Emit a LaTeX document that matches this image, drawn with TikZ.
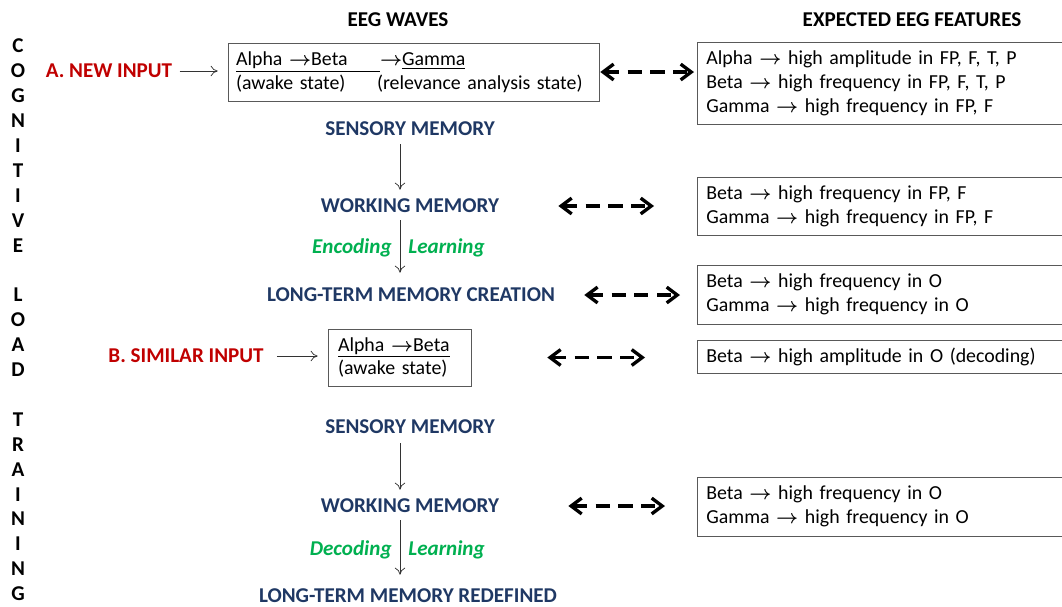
\documentclass[tikz,border=0pt]{standalone}
\usepackage{fontspec}
\setmainfont{Carlito}
\usetikzlibrary{arrows.meta}

\definecolor{memblue}{HTML}{1F3864}
\definecolor{inred}{HTML}{C00000}
\definecolor{cuegreen}{HTML}{00B050}
\newcommand{\wto}{{\boldmath$\rightarrow$}}

\tikzset{
  mem/.style={font=\bfseries\fontsize{12}{14}\selectfont, text=memblue, inner sep=0pt},
  inlabel/.style={font=\bfseries\fontsize{12}{14}\selectfont, text=inred, inner sep=0pt},
  head/.style={font=\bfseries\fontsize{12}{14}\selectfont, inner sep=0pt},
  cue/.style={font=\bfseries\itshape\fontsize{12}{14}\selectfont, text=cuegreen, inner sep=0pt},
  wavebox/.style={draw=black!65, font=\fontsize{11.3}{13.6}\selectfont, align=left},
  featbox/.style={draw=black!65, anchor=west, font=\fontsize{11.3}{13.6}\selectfont,
    text width=7.2cm, inner xsep=0.18cm, align=left},
  flow/.style={-{To[length=4pt,width=6pt]}, black!80},
  link/.style={{Straight Barb[length=6pt,width=9pt]}-{Straight Barb[length=6pt,width=9pt]},
    line width=1.9pt, dash pattern=on 8pt off 5pt}
}

\begin{document}
\begin{tikzpicture}[x=0.02cm,y=-0.02cm]
  \useasboundingbox (0,0) rectangle (1062,606);
  \clip (0,0) rectangle (1062,606);

  % Side title
  \foreach \ch [count=\k from 0] in {C,O,G,N,I,T,I,V,E,{},L,O,A,D,{},T,R,A,I,N,I,N,G}
    \node[head] (ltr\k) at (18,46+\k*24.9) {\ch};

  % Column heads
  \node[head] (wavehead) at (398,20) {EEG WAVES};
  \node[head] (feathead) at (912,20) {EXPECTED EEG FEATURES};
  \coordinate (axis) at (400,0);

  % A. new input
  \node[inlabel] (in1) at (109,71) {A. NEW INPUT};
  \node[wavebox, minimum width=7.42cm, minimum height=1.16cm, text width=7.1cm, inner xsep=0.16cm]
    (wave1) at (413.5,72)
    {\underline{\makebox[2.88cm][l]{Alpha \wto Beta}}\wto\underline{Gamma}\\
     \makebox[2.82cm][l]{(awake state)}(relevance analysis state)};
  \draw[flow, shorten <=0.14cm, shorten >=0.2cm] (in1.east) -- (in1.east -| wave1.west);

  \node[mem] (sm1) at (410,129) {SENSORY MEMORY};
  \node[mem] (wm1) at (410,206) {WORKING MEMORY};
  \node[mem] (ltm1) at (411,295) {LONG-TERM MEMORY CREATION};
  \draw[flow, shorten <=0.16cm, shorten >=0.18cm] (sm1.south -| axis) -- (wm1.north -| axis);
  \draw[flow, shorten <=0.14cm, shorten >=0.3cm] (wm1.south -| axis) -- (ltm1.north -| axis)
    node[cue, midway, left=0.16cm, yshift=0.05cm] (enc) {Encoding}
    node[cue, midway, right=0.16cm, yshift=0.05cm] (learn1) {Learning};

  % B. similar input
  \node[inlabel] (in2) at (186,356) {B. SIMILAR INPUT};
  \node[wavebox, minimum width=2.86cm, minimum height=1.14cm, text width=2.46cm, inner xsep=0.2cm]
    (wave2) at (399.5,357.5)
    {\underline{Alpha \wto Beta}\\(awake state)};
  \draw[flow, shorten <=0.26cm, shorten >=0.2cm] (in2.east) -- (in2.east -| wave2.west);

  \node[mem] (sm2) at (410,427) {SENSORY MEMORY};
  \node[mem] (wm2) at (410,506) {WORKING MEMORY};
  \node[mem] (ltm2) at (408,596) {LONG-TERM MEMORY REDEFINED};
  \draw[flow, shorten <=0.18cm, shorten >=0.18cm] (sm2.south -| axis) -- (wm2.north -| axis);
  \draw[flow, shorten <=0.14cm, shorten >=0.28cm] (wm2.south -| axis) -- (ltm2.north -| axis)
    node[cue, midway, left=0.16cm, yshift=0.03cm] (dec) {Decoding}
    node[cue, midway, right=0.16cm, yshift=0.03cm] (learn2) {Learning};

  % Expected features
  \node[featbox, minimum height=1.64cm] (feat1) at (697,83)
    {Alpha \wto{} high amplitude in FP, F, T, P\\
     Beta \wto{} high frequency in FP, F, T, P\\
     Gamma \wto{} high frequency in FP, F};
  \node[featbox, minimum height=1.16cm] (feat2) at (697,206)
    {Beta \wto{} high frequency in FP, F\\
     Gamma \wto{} high frequency in FP, F};
  \node[featbox, minimum height=1.18cm] (feat3) at (697,294.5)
    {Beta \wto{} high frequency in O\\
     Gamma \wto{} high frequency in O};
  \node[featbox, minimum height=0.66cm] (feat4) at (697,356.5)
    {Beta \wto{} high amplitude in O (decoding)};
  \node[featbox, minimum height=1.18cm] (feat5) at (697,506.5)
    {Beta \wto{} high frequency in O\\
     Gamma \wto{} high frequency in O};

  % Dashed links
  \draw[link, shorten <=0.02cm, shorten >=0.06cm] (wave1.east) -- (wave1.east -| feat1.west);
  \draw[link, shorten <=1.18cm, shorten >=0.86cm] (wm1.east) -- (wm1.east -| feat2.west);
  \draw[link, shorten <=0.58cm, shorten >=0.34cm] (ltm1.east) -- (ltm1.east -| feat3.west);
  \draw[link, shorten <=1.52cm, shorten >=1.04cm] (wave2.east) -- (wave2.east -| feat4.west);
  \draw[link, shorten <=1.38cm, shorten >=0.64cm] (wm2.east) -- (wm2.east -| feat5.west);
\end{tikzpicture}
\end{document}
